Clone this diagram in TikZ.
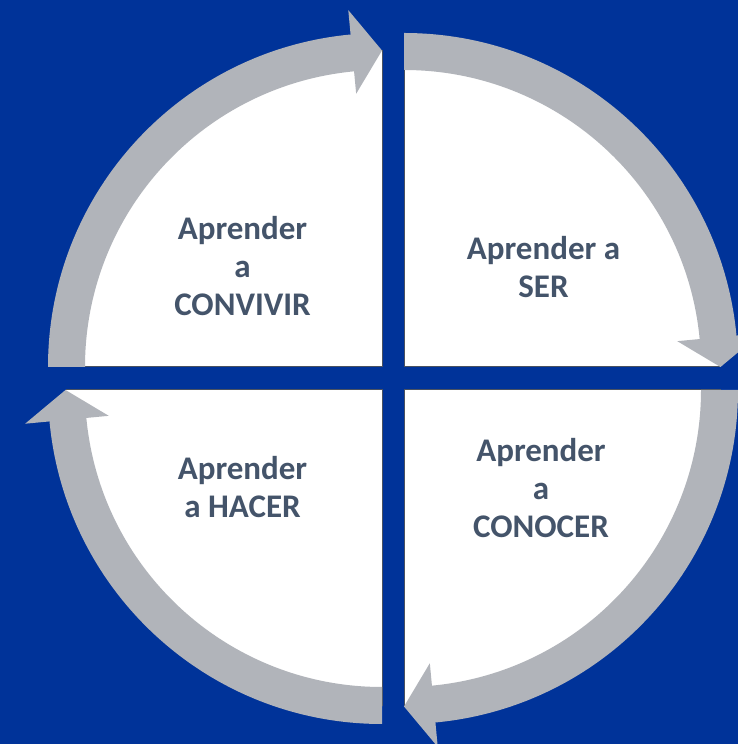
\documentclass[tikz,border=0pt]{standalone}
\usepackage{fontspec}
\setmainfont{Carlito}
\usepackage{tikz}
\usepackage{xcolor}

\definecolor{bgblue}{HTML}{003399}
\definecolor{bandgray}{HTML}{B1B4BA}
\definecolor{labeltext}{HTML}{44546A}
\definecolor{edgegray}{HTML}{4A5260}

\begin{document}
\begin{tikzpicture}[x=1pt, y=1pt,
  sector/.style={fill=white},
  sectoredge/.style={draw=edgegray, line width=1pt},
  band/.style={fill=bandgray},
  quadtext/.style={font=\fontsize{33}{38}\selectfont\bfseries, text=labeltext, align=center}]
  \fill[bgblue] (0,0) rectangle (738,744);
  \useasboundingbox (0,0) rectangle (738,744);
  \clip (0,0) rectangle (738,744);
  \foreach \cx/\cy/\s in {404/377/0, 404/354/-90, 382/354/180, 382/377/90} {
    \begin{scope}[shift={(\cx,\cy)}]
      \fill[sector] (0,0) -- (\s:316.5) arc[start angle=\s, end angle=\s+90, radius=316.5] -- cycle;
      \draw[sectoredge] (\s:316.5) -- (0,0) -- (\s+90:316.5);
      \fill[band] (\s+90:334) arc[start angle=\s+90, end angle=\s+5.4, radius=334]
        -- (\s+5.4:358.5) -- (\s:316.5) -- (\s+5.4:274.5) -- (\s+5.4:297)
        arc[start angle=\s+5.4, end angle=\s+90, radius=297] -- cycle;
    \end{scope}
  }
  \node[quadtext] (convivir) at (242.5,478.4) {Aprender\\a\\CONVIVIR};
  \node[quadtext] (ser) at (543.5,477.3) {Aprender a\\SER};
  \node[quadtext] (conocer) at (541,256.3) {Aprender\\a\\CONOCER};
  \node[quadtext] (hacer) at (242.5,256.8) {Aprender\\a HACER};
\end{tikzpicture}
\end{document}
